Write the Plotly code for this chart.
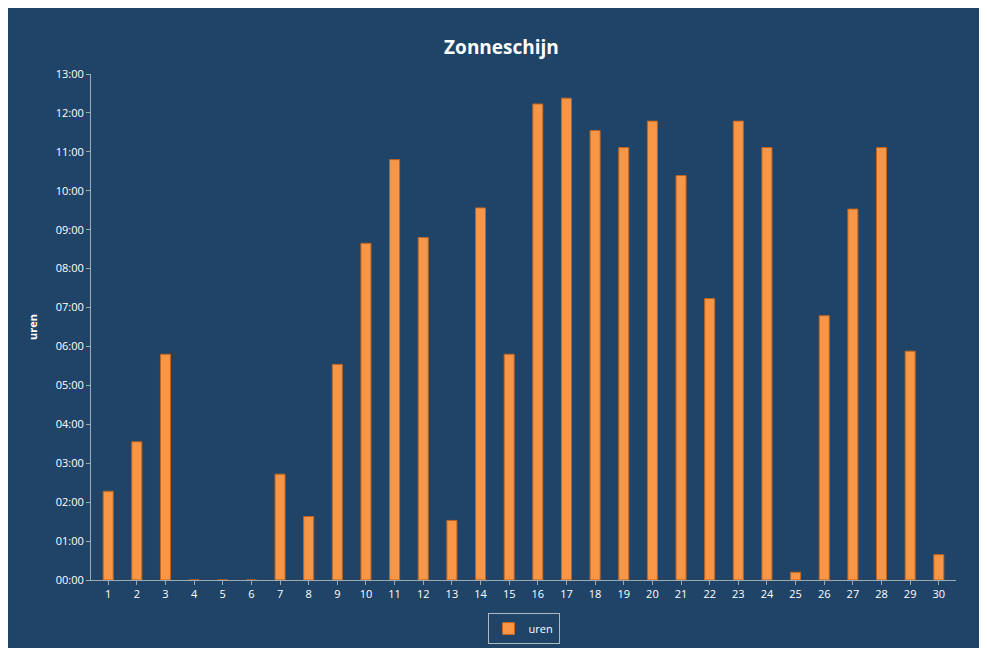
import plotly.graph_objects as go

# dagen en zonuren (in uren)
days = list(range(1, 31))
hours = [2.28, 3.55, 5.8, 0, 0, 0, 2.72, 1.63, 5.54, 8.65,
         10.8, 8.8, 1.53, 9.56, 5.8, 12.23, 12.38, 11.55, 11.11, 11.79,
         10.39, 7.23, 11.79, 11.11, 0.2, 6.79, 9.53, 11.11, 5.88, 0.65]
tick_hours = list(range(0, 14))
tick_labels = ["%02d:00" % h for h in tick_hours]

bg = "#1F4468"

fig = go.Figure()
fig.add_trace(go.Bar(
    x=days, y=hours, name="uren", width=0.35,
    marker=dict(color="#F79646", line=dict(color="#C0641E", width=1)),
))

fig.update_layout(
    width=987, height=648,
    paper_bgcolor=bg, plot_bgcolor=bg,
    margin=dict(l=83, r=39, t=66, b=66),
    title=dict(text="<b>Zonneschijn</b>", x=0.5, y=0.95, xanchor="center",
               font=dict(family="Open Sans", size=19, color="white")),
    font=dict(family="Open Sans", size=11, color="white"),
    showlegend=True,
    legend=dict(orientation="h", x=0.5, xanchor="center", y=-0.096, yanchor="middle",
                bordercolor="#B0B8C0", borderwidth=1, bgcolor=bg,
                font=dict(size=11, color="white")),
    xaxis=dict(tickmode="array", tickvals=days, range=[0.4, 30.6],
               showgrid=False, showline=True, linecolor="#A0A8B0",
               ticks="outside", tickcolor="#A0A8B0", ticklen=4, zeroline=False),
    yaxis=dict(tickmode="array", tickvals=tick_hours, ticktext=tick_labels,
               range=[0, 13], showgrid=False, showline=True, linecolor="#A0A8B0",
               ticks="outside", tickcolor="#A0A8B0", ticklen=4, zeroline=False,
               title=dict(text="<b>uren</b>", font=dict(size=11, color="white"))),
    shapes=[dict(type="rect", xref="paper", yref="paper", x0=-0.1006, x1=1.0324,
                 y0=-0.139, y1=1.139, line=dict(color="#C8D0D8", width=1))],
)

fig.write_html("out.html")
